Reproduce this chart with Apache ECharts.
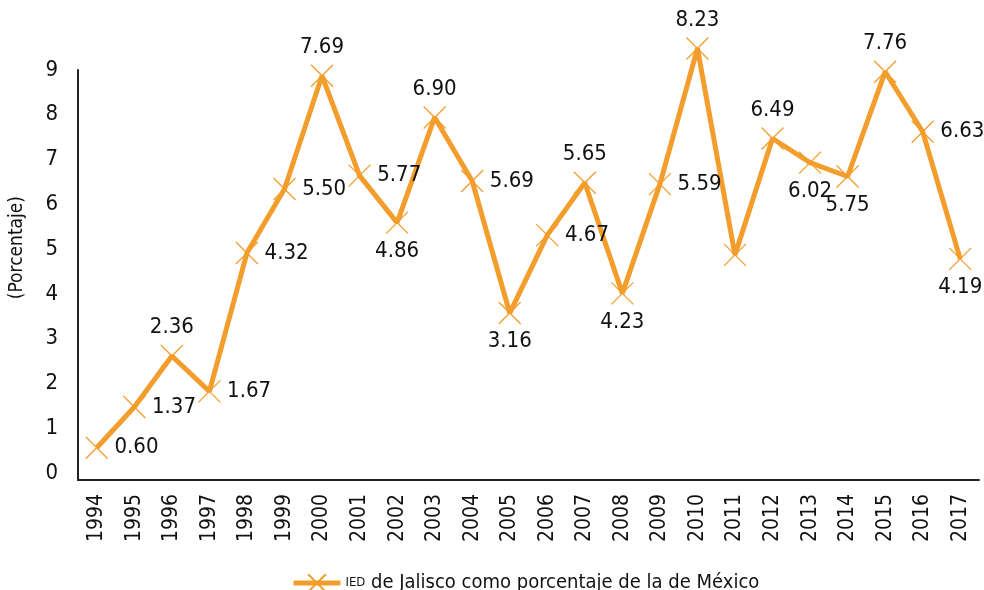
<!DOCTYPE html>
<html>
<head>
<meta charset="utf-8">
<script src="https://cdn.jsdelivr.net/npm/echarts@6/dist/echarts.min.js"></script>
<style>
  html, body { margin: 0; padding: 0; background: #fff; }
  #chart { width: 984px; height: 590px; }
</style>
</head>
<body>
<div id="chart"></div>
<script>
  // años
  var years = ['1994', '1995', '1996', '1997', '1998', '1999', '2000', '2001', '2002', '2003', '2004', '2005',
    '2006', '2007', '2008', '2009', '2010', '2011', '2012', '2013', '2014', '2015', '2016', '2017']
  // posicion de cada punto en la grafica
  var plotted = [0.56, 1.47, 2.61, 1.82, 4.91, 6.34, 8.87, 6.64, 5.59, 7.94, 6.52, 3.57,
    5.31, 6.48, 4.01, 6.45, 9.48, 4.87, 7.47, 6.93, 6.62, 8.96, 7.62, 4.78]
  // etiquetas que trae la grafica
  var labels = ['0.60', '1.37', '2.36', '1.67', '4.32', '5.50', '7.69', '5.77', '4.86', '6.90', '5.69', '3.16',
    '4.67', '5.65', '4.23', '5.59', '8.23', '', '6.49', '6.02', '5.75', '7.76', '6.63', '4.19']
  var yTicks = [0, 1, 2, 3, 4, 5, 6, 7, 8, 9]

  var labelPos = ['right', 'right', 'top', 'right', 'right', 'right', 'top', 'right', 'bottom', 'top', 'right', 'bottom',
    'right', 'top', 'bottom', 'right', 'top', 'right', 'top', 'bottom', 'bottom', 'top', 'right', 'bottom']

  var orange = '#F39D2D'
  var font = '"Liberation Sans Narrow", "DejaVu Sans Condensed", "Roboto Condensed", sans-serif'

  var seriesData = plotted.map(function (v, i) {
    return {
      value: v,
      label: { position: labelPos[i], show: labels[i] !== '' }
    }
  })

  var chart = echarts.init(document.getElementById('chart'))
  chart.setOption({
    animation: false,
    textStyle: { fontFamily: font },
    grid: { left: 78, right: 5, top: 70, bottom: 110 },
    xAxis: {
      type: 'category',
      data: years,
      boundaryGap: true,
      axisLine: { onZero: false, lineStyle: { color: '#222', width: 2 } },
      axisTick: { show: false },
      axisLabel: { rotate: 90, margin: 14, color: '#111', fontSize: 21, fontFamily: font, interval: 0 }
    },
    yAxis: {
      type: 'value',
      min: -0.16,
      max: 9,
      splitLine: { show: false },
      axisLine: { show: true, lineStyle: { color: '#222', width: 2 } },
      axisTick: { show: false },
      axisLabel: { customValues: yTicks, margin: 20, color: '#111', fontSize: 22, fontFamily: font }
    },
    graphic: [{
      type: 'text',
      left: 8,
      top: 196,
      rotation: Math.PI / 2,
      style: { text: '(Porcentaje)', fill: '#111', font: '19px ' + font }
    }],
    legend: {
      left: 286,
      top: 568,
      itemWidth: 47,
      itemHeight: 22,
      itemGap: 6,
      lineStyle: { width: 5, color: orange },
      textStyle: {
        color: '#111', fontSize: 20, fontFamily: font,
        rich: { s: { fontSize: 13, color: '#111', fontFamily: font } }
      },
      formatter: function () {
        return '{s|IED} de Jalisco como porcentaje de la de México'
      },
      data: ['IED de Jalisco como porcentaje de la de México']
    },
    series: [{
      name: 'IED de Jalisco como porcentaje de la de México',
      type: 'line',
      data: seriesData,
      clip: false,
      symbol: 'path://M0,0L10,10M10,0L0,10',
      symbolSize: 22,
      lineStyle: { color: orange, width: 5 },
      itemStyle: { color: 'rgba(0,0,0,0)', borderColor: orange, borderWidth: 1.3 },
      label: {
        show: true,
        formatter: function (p) { return labels[p.dataIndex] },
        color: '#111',
        fontSize: 22,
        fontFamily: font,
        distance: 6
      }
    }]
  })
</script>
</body>
</html>
